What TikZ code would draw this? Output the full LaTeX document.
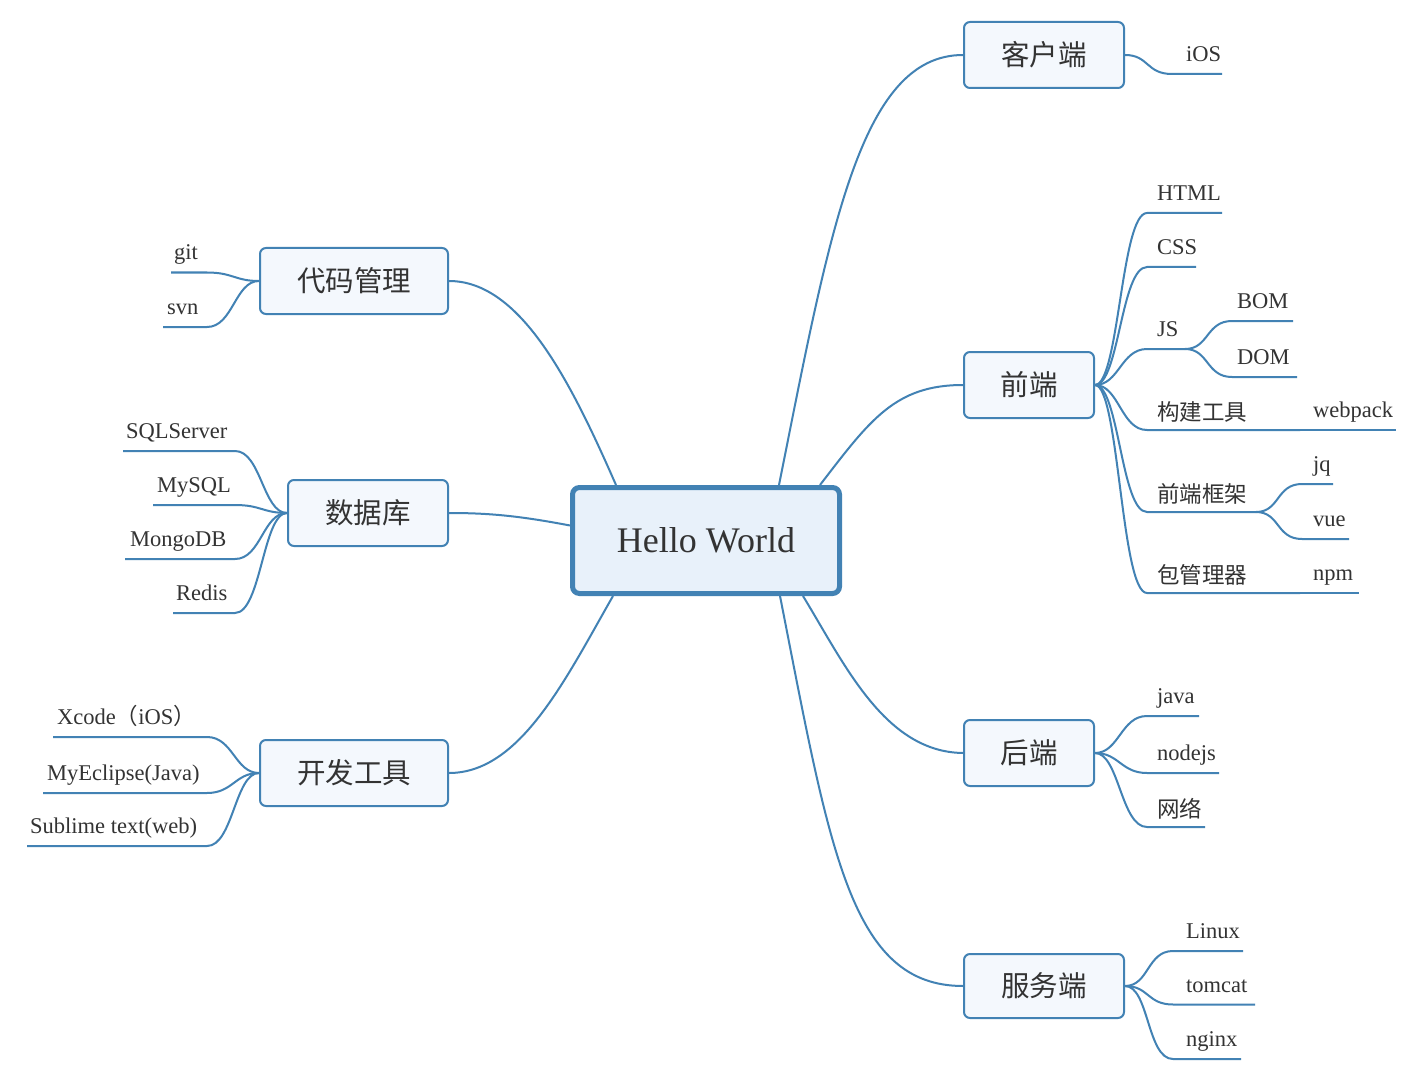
\documentclass[tikz,border=0pt]{standalone}
\usepackage{fontspec}
\setmainfont{Liberation Serif}
\newfontfamily\cjk{Noto Sans CJK SC}
\definecolor{lineblue}{RGB}{66,130,180}
\definecolor{txt}{RGB}{51,51,51}
\definecolor{hwfill}{RGB}{232,241,250}
\definecolor{boxfill}{RGB}{244,248,253}
\tikzset{
  conn/.style={draw=lineblue, line width=2pt},
  hwbox/.style={draw=lineblue, line width=5pt, fill=hwfill, rounded corners=7pt,
    minimum width=267pt, minimum height=106pt, inner sep=0pt, text=txt,
    font=\fontsize{36}{40}\selectfont},
  topic/.style={draw=lineblue, line width=2pt, fill=boxfill, rounded corners=6pt,
    inner sep=0pt, minimum height=66pt, text=txt, font=\cjk\fontsize{28.5}{32}\selectfont},
  leaf/.style={anchor=base west, inner sep=0pt, yshift=12.5pt, text=txt,
    font=\fontsize{22.5}{26}\selectfont},
  cjkleaf/.style={yshift=-3pt, font=\cjk\fontsize{22.5}{26}\selectfont},
}
% #1 parent anchor, #2 name, #3 curve end x, #4 line y, #5 line end x, #6 text x, #7 text, #8 extra style
\newcommand\myRleaf[8]{%
  \coordinate (#2-s) at (#3,#4);
  \coordinate (#2-e) at (#5,#4);
  \node[leaf,#8] (#2) at (#6,#4) {#7};
  \draw[conn] (#1) .. controls +(24,0) and +(-26,0) .. (#2-s) -- (#2-e);
}
\newcommand\myLleaf[8]{%
  \coordinate (#2-s) at (#3,#4);
  \coordinate (#2-e) at (#5,#4);
  \node[leaf,#8] (#2) at (#6,#4) {#7};
  \draw[conn] (#1) .. controls +(-24,0) and +(26,0) .. (#2-s) -- (#2-e);
}
\begin{document}
\begin{tikzpicture}[x=1pt,y=-1pt]
\useasboundingbox (0,0) rectangle (1422,1078);
\fill[white] (0,0) rectangle (1422,1078);

% central topic
\node[hwbox] (hw) at (706,540.5) {Hello World};

% main topics
\node[topic, minimum width=160pt] (kh) at (1044,55) {客户端};
\node[topic, minimum width=130pt] (qd) at (1029,385) {前端};
\node[topic, minimum width=130pt] (hd) at (1029,753) {后端};
\node[topic, minimum width=160pt, minimum height=64pt] (fw) at (1044,986) {服务端};
\node[topic, minimum width=188pt] (dm) at (354,281) {代码管理};
\node[topic, minimum width=160pt] (sj) at (368,513) {数据库};
\node[topic, minimum width=188pt] (kf) at (354,773) {开发工具};

% main connectors
\draw[conn] ([xshift=-63pt]hw.north east) .. controls (830,230) and (860,55) .. (kh.west);
\draw[conn] ([xshift=-22pt]hw.north east) .. controls (870,420) and (895,385) .. (qd.west);
\draw[conn] ([xshift=-39pt]hw.south east) .. controls (845,665) and (885,752) .. (hd.west);
\draw[conn] ([xshift=-62pt]hw.south east) .. controls (830,850) and (850,986) .. (fw.west);
\draw[conn] ([xshift=46pt]hw.north west) .. controls (570,380) and (520,281) .. (dm.east);
\draw[conn] ([yshift=15pt]hw.west) .. controls (520,516) and (490,513) .. (sj.east);
\draw[conn] ([xshift=43pt]hw.south west) .. controls (565,680) and (520,773) .. (kf.east);

% 客户端
\myRleaf{kh.east}{ios}{1172}{74}{1222}{1186}{iOS}{}

% 前端
\myRleaf{qd.east}{html}{1147}{213}{1222}{1157}{HTML}{}
\myRleaf{qd.east}{css}{1147}{267}{1196}{1157}{CSS}{}
\myRleaf{qd.east}{js}{1147}{349}{1185}{1157}{JS}{}
\myRleaf{js-e}{bom}{1232}{321}{1293}{1237}{BOM}{}
\myRleaf{js-e}{dom}{1232}{377}{1297}{1237}{DOM}{}
\myRleaf{qd.east}{gj}{1147}{430}{1300}{1157}{构建工具}{cjkleaf}
\coordinate (wp-e) at (1396,430);
\node[leaf] (wp) at (1313,430) {webpack};
\draw[conn] (gj-e) -- (wp-e);
\myRleaf{qd.east}{kj}{1147}{512}{1256}{1157}{前端框架}{cjkleaf}
\myRleaf{kj-e}{jq}{1302}{484}{1333}{1313}{jq}{}
\myRleaf{kj-e}{vue}{1302}{539}{1349}{1313}{vue}{}
\myRleaf{qd.east}{bg}{1147}{593}{1300}{1157}{包管理器}{cjkleaf}
\coordinate (npm-e) at (1359,593);
\node[leaf] (npm) at (1313,593) {npm};
\draw[conn] (bg-e) -- (npm-e);

% 后端
\myRleaf{hd.east}{java}{1147}{716}{1199}{1157}{java}{}
\myRleaf{hd.east}{node}{1147}{773}{1219}{1157}{nodejs}{}
\myRleaf{hd.east}{wl}{1147}{827}{1205}{1157}{网络}{cjkleaf}

% 服务端
\myRleaf{fw.east}{linux}{1173}{951}{1243}{1186}{Linux}{}
\myRleaf{fw.east}{tomcat}{1173}{1004.5}{1255}{1186}{tomcat}{}
\myRleaf{fw.east}{nginx}{1173}{1059}{1241}{1186}{nginx}{}

% 代码管理
\myLleaf{dm.west}{git}{207}{272.5}{171}{174}{git}{}
\myLleaf{dm.west}{svn}{207}{327}{163}{167}{svn}{}

% 数据库
\myLleaf{sj.west}{sqls}{235}{451}{123}{126}{SQLServer}{}
\myLleaf{sj.west}{mysql}{235}{505}{153}{157}{MySQL}{}
\myLleaf{sj.west}{mongo}{235}{559}{125}{130}{MongoDB}{}
\myLleaf{sj.west}{redis}{235}{613}{173}{176}{Redis}{}

% 开发工具
\myLleaf{kf.west}{xcode}{207}{737}{53}{57}{Xcode{\cjk （}iOS{\cjk ）}}{}
\myLleaf{kf.west}{mye}{207}{793}{43}{47}{MyEclipse(Java)}{}
\myLleaf{kf.west}{subl}{207}{846}{27}{30}{Sublime text(web)}{}
\end{tikzpicture}
\end{document}
